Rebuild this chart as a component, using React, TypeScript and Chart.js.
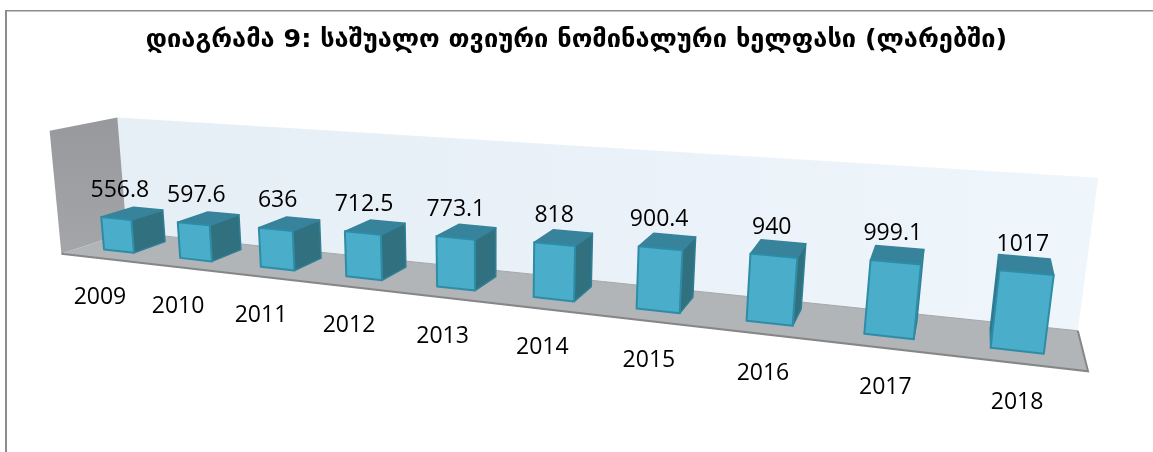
import React, { useEffect, useRef } from "react";
import { Chart, registerables } from "chart.js";

Chart.register(...registerables);

const years = ["2009", "2010", "2011", "2012", "2013", "2014", "2015", "2016", "2017", "2018"];
const wages = [556.8, 597.6, 636, 712.5, 773.1, 818, 900.4, 940, 999.1, 1017];
const valueLabels = ["556.8", "597.6", "636", "712.5", "773.1", "818", "900.4", "940", "999.1", "1017"];
const titleText = "დიაგრამა 9: საშუალო თვიური ნომინალური ხელფასი (ლარებში)";

const axisMax = 2050;
const barFront = 0.3;
const barBack = 0.8;

// Camera calibration: where corners of the room (x, height, depth) land on the page.
const roomCorners: number[][] = [
  [0, 0, 0, 63, 253],
  [1, 0, 0, 1088, 372],
  [0, 0, 1, 125, 233],
  [1, 0, 1, 1078, 330],
  [0, 1, 1, 119, 117],
  [1, 1, 1, 1098, 178],
  [0, 1, 0, 48, 131],
];

function solveCamera(points: number[][]): number[] {
  const rows: number[][] = [];
  for (const [X, Y, Z, u, v] of points) {
    rows.push([X, Y, Z, 1, 0, 0, 0, 0, -u * X, -u * Y, -u * Z, u]);
    rows.push([0, 0, 0, 0, X, Y, Z, 1, -v * X, -v * Y, -v * Z, v]);
  }
  const n = 11;
  const m: number[][] = [];
  for (let i = 0; i < n; i++) {
    const r: number[] = [];
    for (let j = 0; j <= n; j++) {
      let s = 0;
      for (const row of rows) s += row[i] * row[j];
      r.push(s);
    }
    m.push(r);
  }
  for (let c = 0; c < n; c++) {
    let p = c;
    for (let r = c + 1; r < n; r++) if (Math.abs(m[r][c]) > Math.abs(m[p][c])) p = r;
    [m[c], m[p]] = [m[p], m[c]];
    for (let r = 0; r < n; r++) {
      if (r === c) continue;
      const f = m[r][c] / m[c][c];
      for (let j = c; j <= n; j++) m[r][j] -= f * m[c][j];
    }
  }
  return m.map((r, i) => r[n] / r[i]);
}

const cam = solveCamera(roomCorners);
function project(X: number, Y: number, Z: number): [number, number] {
  const w = cam[8] * X + cam[9] * Y + cam[10] * Z + 1;
  return [
    (cam[0] * X + cam[1] * Y + cam[2] * Z + cam[3]) / w,
    (cam[4] * X + cam[5] * Y + cam[6] * Z + cam[7]) / w,
  ];
}

function face(ctx: CanvasRenderingContext2D, pts: [number, number][], fill: string | CanvasGradient, stroke?: string, lw = 1) {
  ctx.beginPath();
  pts.forEach((p, i) => (i ? ctx.lineTo(p[0], p[1]) : ctx.moveTo(p[0], p[1])));
  ctx.closePath();
  ctx.fillStyle = fill;
  ctx.fill();
  if (stroke) {
    ctx.strokeStyle = stroke;
    ctx.lineWidth = lw;
    ctx.lineJoin = "round";
    ctx.stroke();
  }
}

function area(p: [number, number][]) {
  let s = 0;
  for (let i = 0; i < p.length; i++) {
    const a = p[i], b = p[(i + 1) % p.length];
    s += a[0] * b[1] - b[0] * a[1];
  }
  return s / 2;
}

const scene3d = {
  id: "scene3d",
  beforeDatasetDraw(chart: any) {
    const { ctx, chartArea: ca, scales } = chart;
    const meta = chart.getDatasetMeta(0);
    const nx = (px: number) => (px - ca.left) / (ca.right - ca.left);
    const ny = (py: number) => (ca.bottom - py) / (ca.bottom - ca.top);

    ctx.save();
    // page frame lines
    ctx.fillStyle = "#8c8c8c";
    ctx.fillRect(5, 10, 1148, 1.5);
    ctx.fillRect(5, 10, 2, 442);

    // back wall
    const bw: [number, number][] = [project(0, 0, 1), project(1, 0, 1), project(1, 1, 1), project(0, 1, 1)];
    const bg = ctx.createLinearGradient(bw[0][0], 0, bw[1][0], 0);
    bg.addColorStop(0, "#e6eef6");
    bg.addColorStop(1, "#eef5fb");
    face(ctx, bw, bg);
    // side wall
    const sw: [number, number][] = [project(0, 0, 0), project(0, 0, 1), project(0, 1, 1), project(0, 1, 0)];
    const sg = ctx.createLinearGradient(0, 120, 0, 250);
    sg.addColorStop(0, "#98999d");
    sg.addColorStop(1, "#a3a5a8");
    face(ctx, sw, sg);
    // floor
    const fl: [number, number][] = [project(0, 0, 0), project(1, 0, 0), project(1, 0, 1), project(0, 0, 1)];
    face(ctx, fl, "#b1b5b8");
    ctx.strokeStyle = "#a5a7a9";
    ctx.lineWidth = 1;
    ctx.beginPath();
    ctx.moveTo(fl[3][0], fl[3][1]);
    ctx.lineTo(fl[2][0], fl[2][1]);
    ctx.stroke();
    ctx.strokeStyle = "#868686";
    ctx.lineWidth = 2;
    ctx.beginPath();
    ctx.moveTo(fl[0][0], fl[0][1]);
    ctx.lineTo(fl[1][0], fl[1][1]);
    ctx.lineTo(fl[2][0], fl[2][1]);
    ctx.stroke();

    // bars, far to near
    meta.data.forEach((el: any, i: number) => {
      const p = el.getProps(["x", "y", "base", "width"], true);
      const x0 = nx(p.x - p.width / 2);
      const x1 = nx(p.x + p.width / 2);
      const top = ny(p.y);
      const base = ny(p.base);
      const frontCol = el.options.backgroundColor;
      const edge = el.options.borderColor;
      const A = (x: number, y: number, z: number) => project(x, y, z);
      const front: [number, number][] = [A(x0, base, barFront), A(x1, base, barFront), A(x1, top, barFront), A(x0, top, barFront)];
      const right: [number, number][] = [A(x1, base, barFront), A(x1, base, barBack), A(x1, top, barBack), A(x1, top, barFront)];
      const left: [number, number][] = [A(x0, base, barBack), A(x0, base, barFront), A(x0, top, barFront), A(x0, top, barBack)];
      const lid: [number, number][] = [A(x0, top, barFront), A(x1, top, barFront), A(x1, top, barBack), A(x0, top, barBack)];
      const sign = area(front);
      if (area(right) * sign > 0) face(ctx, right, "#31707f", "#2f7f96", 1.5);
      if (area(left) * sign > 0) face(ctx, left, "#31707f", "#2f7f96", 1.5);
      face(ctx, lid, "#37839b", "#37839b", 1.5);
      face(ctx, front, frontCol, edge, 2);

      // value label above the bar
      const u = (x0 + x1) / 2;
      const c = A(u, top, barFront);
      ctx.fillStyle = "#000";
      ctx.font = "23px 'Open Sans'";
      ctx.textAlign = "center";
      ctx.textBaseline = "middle";
      ctx.fillText(valueLabels[i], c[0] + 4 - 8 * u, c[1] - 28.5);
      // category label below the floor
      const t = A(u, 0, barFront - 0.27);
      ctx.fillText(scales.x.getLabelForValue(i), t[0] - 1, t[1] + 40);
    });
    ctx.restore();
    return false;
  },
};

export default function App() {
  const ref = useRef<HTMLCanvasElement>(null);
  useEffect(() => {
    const chart = new Chart(ref.current!, {
      type: "bar",
      data: {
        labels: years,
        datasets: [
          {
            data: wages,
            backgroundColor: "#4aadc9",
            borderColor: "#2f8ca6",
            barPercentage: 0.4,
            categoryPercentage: 1,
          },
        ],
      },
      options: {
        responsive: false,
        animation: false,
        layout: { padding: { top: 6, left: 0, right: 0, bottom: 0 } },
        plugins: {
          legend: { display: false },
          tooltip: { enabled: false },
          title: {
            display: true,
            text: titleText,
            color: "#000",
            font: { family: "'DejaVu Sans'", size: 25.4, weight: "bold" },
            padding: { top: 19, bottom: 10 },
          },
        },
        scales: {
          x: { display: false },
          y: { display: false, min: 0, max: axisMax },
        },
      },
      plugins: [scene3d],
    });
    return () => chart.destroy();
  }, []);
  return (
    <div style={{ position: "absolute", left: 0, top: 0, width: 1153, height: 452, background: "#fff" }}>
      <canvas ref={ref} width={1153} height={452} style={{ display: "block" }} />
    </div>
  );
}
